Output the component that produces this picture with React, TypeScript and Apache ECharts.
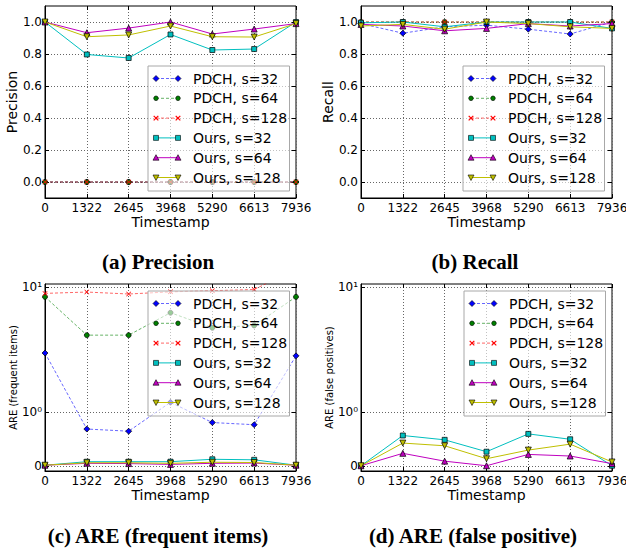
import React, { useEffect, useRef } from "react";
import * as echarts from "echarts";

// ---------- data ----------
const timestamps = ["0", "1322", "2645", "3968", "5290", "6613", "7936"];
const seriesNames = ["PDCH, s=32", "PDCH, s=64", "PDCH, s=128", "Ours, s=32", "Ours, s=64", "Ours, s=128"];

// (a) Precision
const precisionPdch32 = [0, 0, 0, 0, 0, 0, 0];
const precisionPdch64 = [0, 0, 0, 0, 0, 0, 0];
const precisionPdch128 = [0, 0, 0, 0, 0, 0, 0];
const precisionOurs32 = [1.0, 0.797, 0.775, 0.922, 0.825, 0.831, 1.0];
const precisionOurs64 = [1.0, 0.933, 0.962, 1.0, 0.925, 0.956, 0.99];
const precisionOurs128 = [1.0, 0.908, 0.919, 0.975, 0.908, 0.906, 0.99];

// (b) Recall
const recallPdch32 = [0.99, 0.93, 0.97, 0.98, 0.955, 0.925, 1.0];
const recallPdch64 = [1, 1, 1, 1, 1, 1, 1];
const recallPdch128 = [1, 1, 1, 1, 1, 1, 1];
const recallOurs32 = [0.995, 1.0, 0.97, 1.0, 1.0, 1.0, 0.96];
const recallOurs64 = [0.985, 0.975, 0.945, 0.96, 0.99, 0.975, 0.99];
const recallOurs128 = [0.975, 0.985, 0.955, 1.0, 0.99, 0.97, 0.96];

// (c) ARE (frequent items)
const areFreqPdch32 = [2.95, 0.68, 0.64, 1.19, 0.8, 0.76, 2.8];
const areFreqPdch64 = [8.3, 4.1, 4.1, 6.2, 4.7, 4.9, 8.3];
const areFreqPdch128 = [8.85, 9.07, 8.75, 9.1, 9.3, 9.5, 14];
const areFreqOurs32 = [0.01, 0.075, 0.075, 0.075, 0.12, 0.11, 0.01];
const areFreqOurs64 = [0.01, 0.045, 0.04, 0.025, 0.045, 0.05, 0.01];
const areFreqOurs128 = [0.01, 0.055, 0.055, 0.045, 0.065, 0.06, 0.01];

// (d) ARE (false positives)
const areFpPdch32: number[] = [];
const areFpPdch64: number[] = [];
const areFpPdch128: number[] = [];
const areFpOurs32 = [0, 0.56, 0.48, 0.26, 0.59, 0.49, 0];
const areFpOurs64 = [0, 0.23, 0.085, 0, 0.21, 0.18, 0.04];
const areFpOurs128 = [0, 0.42, 0.37, 0.13, 0.29, 0.4, 0.07];

const linearTicks = [0, 0.2, 0.4, 0.6, 0.8, 1.0];
const symlogTickValues = [0, 1, 10];
const symlogTickLabels = ["0", "10⁰", "10¹"];
const captions = ["(a) Precision", "(b) Recall", "(c) ARE (frequent items)", "(d) ARE (false positive)"];
const yNames = ["Precision", "Recall", "ARE (frequent items)", "ARE (false positives)"];

// ---------- symlog-like scale ----------
const K = 0.432;
const symlog = (v: number) => (v <= 1 ? v * K : K + Math.log10(v));

const FONT = "DejaVu Sans";
const XMARK = "path://M0,1L1,0L5,4L9,0L10,1L6,5L10,9L9,10L5,6L1,10L0,9L4,5Z";

const styles = [
  { color: "#0000ff", symbol: "diamond", dashed: true, rotate: 0, size: 6 },
  { color: "#008000", symbol: "circle", dashed: true, rotate: 0, size: 5 },
  { color: "#ff0000", symbol: XMARK, dashed: true, rotate: 0, size: 5 },
  { color: "#00bfbf", symbol: "rect", dashed: false, rotate: 0, size: 5 },
  { color: "#bf00bf", symbol: "triangle", dashed: false, rotate: 0, size: 6 },
  { color: "#bfbf00", symbol: "triangle", dashed: false, rotate: 180, size: 6 },
];

const panelData = [
  [precisionPdch32, precisionPdch64, precisionPdch128, precisionOurs32, precisionOurs64, precisionOurs128],
  [recallPdch32, recallPdch64, recallPdch128, recallOurs32, recallOurs64, recallOurs128],
  [areFreqPdch32, areFreqPdch64, areFreqPdch128, areFreqOurs32, areFreqOurs64, areFreqOurs128],
  [areFpPdch32, areFpPdch64, areFpPdch128, areFpOurs32, areFpOurs64, areFpOurs128],
];

const grids = [
  { left: 45, top: 6, width: 251, height: 192 },
  { left: 361, top: 6, width: 251, height: 192 },
  { left: 45, top: 284, width: 251, height: 187 },
  { left: 361, top: 284, width: 251, height: 187 },
];
const legendBoxes = [
  { left: 148, top: 66 },
  { left: 463, top: 66 },
  { left: 148, top: 291 },
  { left: 464, top: 291 },
];
const captionPos = [
  { x: 158, y: 251 },
  { x: 475, y: 251 },
  { x: 158, y: 525 },
  { x: 473, y: 525 },
];

function legendElements(left: number, top: number) {
  const els: any[] = [];
  els.push({
    type: "rect",
    z: 100,
    shape: { x: left, y: top, width: 141.5, height: 125 },
    style: { fill: "rgba(255,255,255,0.6)", stroke: "#a8a8a8", lineWidth: 1 },
  });
  seriesNames.forEach((name, i) => {
    const st = styles[i];
    const cy = top + 12.5 + i * 19.8;
    const x1 = left + 8;
    const x2 = left + 30;
    els.push({
      type: "line",
      z: 101,
      shape: { x1, y1: cy, x2, y2: cy },
      style: {
        stroke: st.color,
        lineWidth: 1,
        lineDash: st.dashed ? [3, 2] : null,
        opacity: st.dashed ? 0.6 : 1,
      },
    });
    [x1, x2].forEach((x) => {
      const ms = { fill: st.color, stroke: "#000", lineWidth: 0.6 };
      if (i === 0) {
        els.push({ type: "polygon", z: 102, shape: { points: [[x, cy - 3], [x + 3, cy], [x, cy + 3], [x - 3, cy]] }, style: ms });
      } else if (i === 1) {
        els.push({ type: "circle", z: 102, shape: { cx: x, cy, r: 2.3 }, style: ms });
      } else if (i === 2) {
        els.push({ type: "line", z: 102, shape: { x1: x - 2.3, y1: cy - 2.3, x2: x + 2.3, y2: cy + 2.3 }, style: { stroke: st.color, lineWidth: 1.2 } });
        els.push({ type: "line", z: 102, shape: { x1: x - 2.3, y1: cy + 2.3, x2: x + 2.3, y2: cy - 2.3 }, style: { stroke: st.color, lineWidth: 1.2 } });
      } else if (i === 3) {
        els.push({ type: "rect", z: 102, shape: { x: x - 2.5, y: cy - 2.5, width: 5, height: 5 }, style: ms });
      } else if (i === 4) {
        els.push({ type: "polygon", z: 102, shape: { points: [[x, cy - 3], [x + 3, cy + 2.5], [x - 3, cy + 2.5]] }, style: ms });
      } else {
        els.push({ type: "polygon", z: 102, shape: { points: [[x, cy + 3], [x + 3, cy - 2.5], [x - 3, cy - 2.5]] }, style: ms });
      }
    });
    els.push({
      type: "text",
      z: 102,
      x: left + 45,
      y: cy,
      style: {
        text: name,
        fill: "#000",
        font: `14px "${FONT}"`,
        textAlign: "left",
        textVerticalAlign: "middle",
        verticalAlign: "middle",
      },
    });
  });
  return els;
}

export default function App() {
  const ref = useRef<HTMLDivElement>(null);
  useEffect(() => {
    if (!ref.current) return;
    const chart = echarts.init(ref.current, undefined, { renderer: "svg" });

    const gridLine = { show: true, lineStyle: { color: "#666", width: 1, type: [1, 2] } };
    const xAxes: any[] = [];
    const yAxes: any[] = [];
    grids.forEach((_, gi) => {
      xAxes.push({
        type: "category",
        gridIndex: gi,
        data: timestamps,
        boundaryGap: false,
        axisLine: { show: true, onZero: false, lineStyle: { color: "#000", width: 1 } },
        axisTick: { show: true, inside: true, length: 4, lineStyle: { color: "#000" } },
        axisLabel: { color: "#000", fontSize: 12, fontFamily: FONT, margin: 4, interval: 0 },
        splitLine: gridLine,
        name: "Timestamp",
        nameLocation: "middle",
        nameGap: 17,
        nameTextStyle: { color: "#000", fontSize: 14, fontFamily: FONT },
      });
    });
    grids.forEach((_, gi) => {
      const isLog = gi >= 2;
      const ticks = isLog ? symlogTickValues.map(symlog) : linearTicks;
      yAxes.push({
        type: "value",
        gridIndex: gi,
        min: isLog ? -0.042 : -0.1,
        max: isLog ? 1.454 : 1.1,
        axisLine: { show: true, onZero: false, lineStyle: { color: "#000", width: 1 } },
        axisTick: { show: true, inside: true, length: 4, customValues: ticks, lineStyle: { color: "#000" } },
        axisLabel: {
          customValues: ticks,
          color: "#000",
          fontSize: 12,
          fontFamily: FONT,
          margin: 3,
          formatter: (v: number) => {
            if (!isLog) return v.toFixed(1);
            let best = 0;
            ticks.forEach((t, ti) => {
              if (Math.abs(t - v) < Math.abs(ticks[best] - v)) best = ti;
            });
            return symlogTickLabels[best];
          },
        },
        splitLine: gridLine,
        name: yNames[gi],
        nameLocation: "middle",
        nameGap: isLog ? 27 : 24,
        nameTextStyle: { color: "#000", fontSize: isLog ? 10 : 14, fontFamily: FONT },
      });
    });
    // top / right tick-only axes
    grids.forEach((_, gi) => {
      xAxes.push({
        type: "category",
        gridIndex: gi,
        position: "top",
        data: timestamps,
        boundaryGap: false,
        axisLine: { show: false, onZero: false },
        axisTick: { show: true, inside: true, length: 4, lineStyle: { color: "#000" } },
        axisLabel: { show: false },
        splitLine: { show: false },
      });
    });
    grids.forEach((_, gi) => {
      const isLog = gi >= 2;
      const ticks = isLog ? symlogTickValues.map(symlog) : linearTicks;
      yAxes.push({
        type: "value",
        gridIndex: gi,
        position: "right",
        min: isLog ? -0.042 : -0.1,
        max: isLog ? 1.454 : 1.1,
        axisLine: { show: false, onZero: false },
        axisTick: { show: true, inside: true, length: 4, customValues: ticks, lineStyle: { color: "#000" } },
        axisLabel: { show: false, customValues: ticks },
        splitLine: { show: false },
      });
    });

    const series: any[] = [];
    panelData.forEach((arrs, gi) => {
      const isLog = gi >= 2;
      arrs.forEach((arr, si) => {
        const st = styles[si];
        series.push({
          type: "line",
          name: seriesNames[si],
          xAxisIndex: gi,
          yAxisIndex: gi,
          data: arr.map((v) => (isLog ? symlog(v) : v)),
          symbol: st.symbol,
          symbolSize: st.size,
          symbolRotate: st.rotate,
          showSymbol: true,
          showAllSymbol: true,
          clip: true,
          z: 2 + si * 0.1,
          lineStyle: {
            color: st.color,
            width: 1,
            type: st.dashed ? [3, 2] : "solid",
            opacity: st.dashed ? 0.6 : 1,
          },
          itemStyle: {
            color: st.color,
            borderColor: si === 2 ? st.color : "#000",
            borderWidth: si === 2 ? 0 : 0.7,
          },
          emphasis: { disabled: true },
        });
      });
    });

    const graphicEls: any[] = [];
    legendBoxes.forEach((b) => graphicEls.push(...legendElements(b.left, b.top)));

    chart.setOption({
      animation: false,
      backgroundColor: "#fff",
      title: captions.map((c, i) => ({
        text: c,
        left: captionPos[i].x,
        top: captionPos[i].y,
        textAlign: "center",
        padding: 0,
        textStyle: { fontFamily: "Liberation Serif", fontWeight: "bold", fontSize: 21, color: "#000" },
      })),
      grid: grids.map((g) => ({
        ...g,
        show: true,
        borderColor: "#000",
        borderWidth: 1,
        backgroundColor: "transparent",
        containLabel: false,
        outerBoundsMode: "none",
      })),
      xAxis: xAxes,
      yAxis: yAxes,
      series,
      graphic: { elements: graphicEls },
    });
    return () => chart.dispose();
  }, []);
  return (
    <div
      ref={ref}
      style={{ position: "absolute", left: 0, top: 0, width: 626, height: 550 }}
    />
  );
}
